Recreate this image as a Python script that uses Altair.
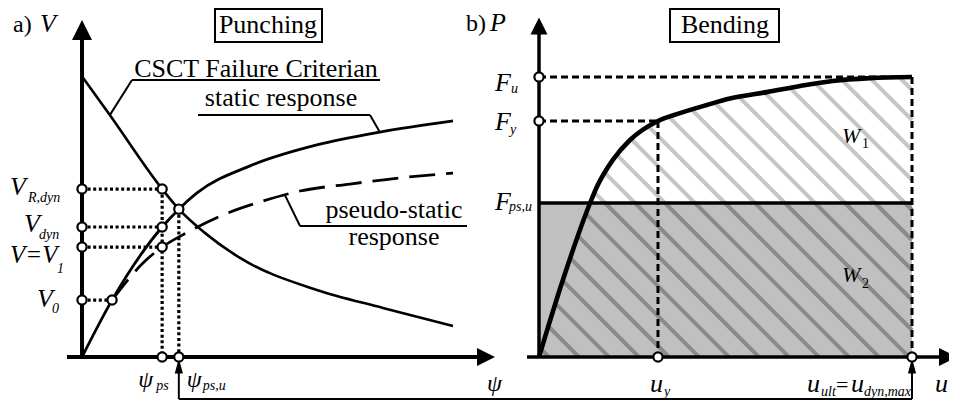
import altair as alt
import numpy as np
import pandas as pd

FONT = "'Liberation Serif', 'Times New Roman', serif"

# ---------------- panel a) Punching  (psi, V in diagram units) ----------------
CSCT_PSI = [0.03, 0.75, 2.16, 2.61, 3.32, 4.26, 6.33, 8.11, 10.0]
CSCT_V = [10.0, 8.67, 6.02, 5.30, 4.44, 3.55, 2.40, 1.76, 1.11]
STATIC_PSI = [0.0, 0.81, 2.16, 2.61, 3.10, 4.53, 6.33, 8.03, 10.0]
STATIC_V = [0.0, 2.04, 4.66, 5.30, 5.88, 6.85, 7.60, 8.06, 8.46]
PSEUDO_PSI = [0.81, 1.70, 2.16, 2.86, 3.80, 4.88, 5.88, 7.22, 8.57, 10.0]
PSEUDO_V = [2.04, 3.44, 3.94, 4.48, 5.09, 5.59, 5.95, 6.20, 6.42, 6.59]
PSI_PS, PSI_PSU, PSI_V0 = 2.16, 2.61, 0.81
V_RDYN, V_DYN, V_1, V_0, V_INT = 6.02, 4.66, 3.94, 2.04, 5.30

# ---------------- panel b) Bending  (u, P in diagram units) ----------------
CURVE_U = [0.0, 0.64, 1.37, 1.55, 1.98, 2.44, 3.19, 3.78, 4.50, 5.12, 6.11, 7.00, 7.88, 8.87, 10.0]
CURVE_P = [0.0, 2.75, 5.50, 6.07, 7.04, 7.75, 8.43, 8.71, 9.00, 9.23, 9.46, 9.68, 9.86, 9.96, 10.0]
U_Y, U_ULT = 3.19, 10.0
F_U, F_Y, F_PSU = 10.0, 8.43, 5.50

# ---------------- layout ----------------
W, H = 941, 393
PA = dict(ox=74, oy=349, sx=37.1, sy=27.9)
PB = dict(ox=531, oy=349, sx=37.3, sy=28.0)
for p in (PA, PB):
    p["xd"] = [-p["ox"] / p["sx"], (W - p["ox"]) / p["sx"]]
    p["yd"] = [(p["oy"] - H) / p["sy"], p["oy"] / p["sy"]]


def at(p, ax, ay, dx=0.0, dy=0.0):
    return ax + dx / p["sx"], ay - dy / p["sy"]


def X(p, f="x"):
    return alt.X(f"{f}:Q", scale=alt.Scale(domain=p["xd"], nice=False, zero=False), axis=None)


def Y(p, f="y"):
    return alt.Y(f"{f}:Q", scale=alt.Scale(domain=p["yd"], nice=False, zero=False), axis=None)


def seg(p, a, b):
    x1, y1 = at(p, *a)
    x2, y2 = at(p, *b)
    return (x1, y1, x2, y2)


def rules(p, segs, **style):
    df = pd.DataFrame(segs, columns=["x", "y", "x2", "y2"])
    st = dict(color="black", strokeCap="butt")
    st.update(style)
    return alt.Chart(df).mark_rule(**st).encode(x=X(p), y=Y(p), x2="x2:Q", y2="y2:Q")


def curve(p, xs, ys, **style):
    df = pd.DataFrame({"x": xs, "y": ys})
    st = dict(color="black", interpolate="monotone", strokeCap="butt")
    st.update(style)
    return alt.Chart(df).mark_line(**st).encode(x=X(p), y=Y(p))


def points(p, pts, **style):
    df = pd.DataFrame([at(p, *q) for q in pts], columns=["x", "y"])
    return alt.Chart(df).mark_point(**style).encode(x=X(p), y=Y(p))


def circles(p, pts):
    return points(p, pts, shape="circle", size=85, filled=True, fill="white",
                  stroke="black", strokeWidth=2.2, opacity=1)


def arrow(p, pts, shape, size):
    return points(p, pts, shape=shape, size=size, filled=True, color="black", opacity=1)


def texts(p, rows, size, italic=False, align="left"):
    data = [(t,) + at(p, ax, ay, dx, dy) for t, ax, ay, dx, dy in rows]
    df = pd.DataFrame(data, columns=["t", "x", "y"])
    return alt.Chart(df).mark_text(
        font=FONT, fontSize=size, fontStyle="italic" if italic else "normal",
        align=align, baseline="alphabetic", color="black"
    ).encode(x=X(p), y=Y(p), text="t:N")


def box(p, dx1, dx2, dy1, dy2):
    x1, y1 = at(p, 0, 0, dx1, dy1)
    x2, y2 = at(p, 0, 0, dx2, dy2)
    df = pd.DataFrame([(x1, y1, x2, y2)], columns=["x", "y", "x2", "y2"])
    return alt.Chart(df).mark_rect(fill="white", fillOpacity=0, stroke="black", strokeWidth=2).encode(
        x=X(p), y=Y(p), x2="x2:Q", y2="y2:Q")


UP = "M0,-1L-1,1L1,1Z"
RIGHT = "M1,0L-1,-1L-1,1Z"
UP_THIN = "M0,-1L-0.55,1L0.55,1Z"

# ================= panel a =================
A = []
A.append(rules(PA, [seg(PA, (0, 0, -15, 0), (0, 0, 404, 0)),
                    seg(PA, (0, 0, 0, 0), (0, 0, 0, -327))], strokeWidth=4))
A.append(arrow(PA, [(0, 0, 0, -327)], UP, 400))
A.append(arrow(PA, [(0, 0, 404, 0)], RIGHT, 324))
dotted = [
    seg(PA, (0, V_RDYN), (PSI_PS, V_RDYN)),
    seg(PA, (0, V_DYN), (PSI_PS, V_DYN)),
    seg(PA, (0, V_1), (PSI_PS, V_1)),
    seg(PA, (0, V_0), (PSI_V0, V_0)),
    seg(PA, (PSI_PS, V_RDYN), (PSI_PS, 0)),
    seg(PA, (PSI_PSU, V_INT), (PSI_PSU, 0)),
]
A.append(rules(PA, dotted, strokeWidth=3.2, strokeDash=[3, 2.6]))
A.append(curve(PA, CSCT_PSI, CSCT_V, strokeWidth=2.6))
A.append(curve(PA, STATIC_PSI, STATIC_V, strokeWidth=2.8))
A.append(curve(PA, PSEUDO_PSI, PSEUDO_V, strokeWidth=2.8, strokeDash=[26, 11]))
lead = [
    seg(PA, (0, 0, 50, -277), (0, 0, 298, -277)),
    seg(PA, (0, 0, 50, -277), (0.75, float(np.interp(0.75, CSCT_PSI, CSCT_V)))),
    seg(PA, (0, 0, 116, -242), (0, 0, 288, -242)),
    seg(PA, (0, 0, 288, -242), (8.03, float(np.interp(8.03, STATIC_PSI, STATIC_V)))),
    seg(PA, (0, 0, 218, -131), (0, 0, 385, -131)),
    seg(PA, (0, 0, 218, -131), (5.47, float(np.interp(5.47, PSEUDO_PSI, PSEUDO_V)))),
    seg(PA, (PSI_PSU, 0, 0, 42), (PSI_PSU, 0, 0, 16)),
]
A.append(rules(PA, lead, strokeWidth=2))
A.append(arrow(PA, [(PSI_PSU, 0, 0, 9)], UP_THIN, 225))
A.append(circles(PA, [(0, V_RDYN), (0, V_DYN), (0, V_1), (0, V_0),
                      (PSI_PS, V_RDYN), (PSI_PS, V_DYN), (PSI_PS, V_1), (PSI_V0, V_0),
                      (PSI_PSU, V_INT), (PSI_PS, 0), (PSI_PSU, 0)]))
A.append(box(PA, 133, 240, -348, -315))
A.append(texts(PA, [("a)", 0, 0, -69, -325)], 24))
A.append(texts(PA, [("V", 0, 0, -42, -325), ("V", 0, V_RDYN, -72, 6), ("V", 0, V_DYN, -58, 5),
                    ("V", 0, V_0, -45, 7)], 26, italic=True))
A.append(texts(PA, [("V=V", 0, V_1, -72, 16)], 25, italic=True))
A.append(texts(PA, [("R,dyn", 0, V_RDYN, -54, 13), ("dyn", 0, V_DYN, -43, 12), ("1", 0, V_1, -25, 26),
                    ("0", 0, V_0, -30, 13), ("ps", PSI_PS, 0, -6, 33), ("ps,u", PSI_PSU, 0, 24, 33)],
               14, italic=True))
A.append(texts(PA, [("ψ", PSI_PS, 0, -24, 30), ("ψ", PSI_PSU, 0, 8, 30), ("ψ", 0, 0, 405, 34)],
               24, italic=True))
A.append(texts(PA, [("Punching", 0, 0, 186, -324), ("CSCT Failure Criterian", 0, 0, 174, -280),
                    ("static response", 0, 0, 199, -251), ("pseudo-static", 0, 0, 312, -139),
                    ("response", 0, 0, 312, -112)], 26, align="center"))

# ================= panel b =================
B = []
rect_df = pd.DataFrame([(0.0, 0.0, U_ULT, F_PSU)], columns=["x", "y", "x2", "y2"])
B.append(alt.Chart(rect_df).mark_rect(color="#c0c0c0").encode(x=X(PB), y=Y(PB), x2="x2:Q", y2="y2:Q"))

# diagonal hatch under the load-deflection curve
HATCH_STEP_PX, HATCH_SLOPE_PX, HATCH_START_PX = 30.0, 1.0, 10.0
k = PB["sx"] / PB["sy"] * HATCH_SLOPE_PX
step = HATCH_STEP_PX / PB["sx"]
uu = np.linspace(0, U_ULT, 4001)
fu = np.interp(uu, CURVE_U, CURVE_P)
light, dark = [], []
c = HATCH_START_PX / PB["sx"]
while c < U_ULT + F_U / k + step:
    pl = k * (c - uu)
    inside = (pl <= fu) & (pl >= 0)
    if inside.any():
        idx = np.where(inside)[0]
        u0, u1 = uu[idx[0]], uu[idx[-1]]
        u5 = c - F_PSU / k
        if u0 < u5:
            e = min(u1, u5)
            light.append((u0, k * (c - u0), e, k * (c - e)))
        if u1 > u5:
            s = max(u0, u5)
            dark.append((s, k * (c - s), u1, k * (c - u1)))
    c += step
B.append(rules(PB, light, strokeWidth=4, color="#c6c6c6"))
B.append(rules(PB, dark, strokeWidth=4, color="#8a8a8a"))
B.append(rules(PB, [seg(PB, (0, F_PSU), (U_ULT, F_PSU))], strokeWidth=3.5))
dashed = [
    seg(PB, (0, F_U), (U_ULT, F_U)),
    seg(PB, (0, F_Y), (U_Y, F_Y)),
    seg(PB, (U_Y, F_Y), (U_Y, 0)),
    seg(PB, (U_ULT, F_U), (U_ULT, 0)),
]
B.append(rules(PB, dashed, strokeWidth=3, strokeDash=[7, 4]))
B.append(curve(PB, CURVE_U, CURVE_P, strokeWidth=4.6))
B.append(rules(PB, [seg(PB, (0, 0, -12, 0), (0, 0, 401, 0)),
                    seg(PB, (0, 0, 0, 0), (0, 0, 0, -331))], strokeWidth=3.5))
B.append(arrow(PB, [(0, 0, 0, -331)], UP, 289))
B.append(arrow(PB, [(0, 0, 409, 0)], RIGHT, 324))
u_link = (PA["ox"] + PSI_PSU * PA["sx"] - PB["ox"]) / PB["sx"]
B.append(rules(PB, [seg(PB, (u_link, 0, 0, 42), (U_ULT, 0, 0, 42)),
                    seg(PB, (U_ULT, 0, 0, 42), (U_ULT, 0, 0, 16))], strokeWidth=2))
B.append(arrow(PB, [(U_ULT, 0, 0, 9)], UP_THIN, 225))
B.append(circles(PB, [(0, F_U), (0, F_Y), (U_Y, 0), (U_ULT, 0)]))
B.append(box(PB, 131, 240, -348, -315))
B.append(texts(PB, [("b)", 0, 0, -73, -326)], 24))
B.append(texts(PB, [("P", 0, 0, -49, -326), ("F", 0, F_U, -44, 14), ("F", 0, F_Y, -44, 9),
                    ("F", 0, F_PSU, -44, 7), ("u", U_Y, 0, -8, 35), ("u", U_ULT, 0, -105, 35),
                    ("u", U_ULT, 0, -61, 35), ("u", 0, 0, 396, 35)],
               26, italic=True))
B.append(texts(PB, [("=", U_ULT, 0, -76, 35)], 22))
B.append(texts(PB, [("u", 0, F_U, -28, 16), ("y", 0, F_Y, -29, 13), ("ps,u", 0, F_PSU, -30, 8),
                    ("y", U_Y, 0, 6, 39), ("ult", U_ULT, 0, -91, 39), ("dyn,max", U_ULT, 0, -48, 39)],
               14, italic=True))
B.append(texts(PB, [("W", 0, 0, 303, -214), ("W", 0, 0, 303, -75)], 22, italic=True))
B.append(texts(PB, [("1", 0, 0, 323, -209), ("2", 0, 0, 323, -69)], 14))
B.append(texts(PB, [("Bending", 0, 0, 186, -324)], 26, align="center"))

chart = (
    alt.layer(alt.layer(*A), alt.layer(*B))
    .resolve_scale(x="independent", y="independent")
    .properties(width=W, height=H, padding=0,
                autosize=alt.AutoSizeParams(type="none"), background="white")
    .configure_view(stroke=None)
)
chart.save("out.html", embed_options={"renderer": "svg", "actions": False})
